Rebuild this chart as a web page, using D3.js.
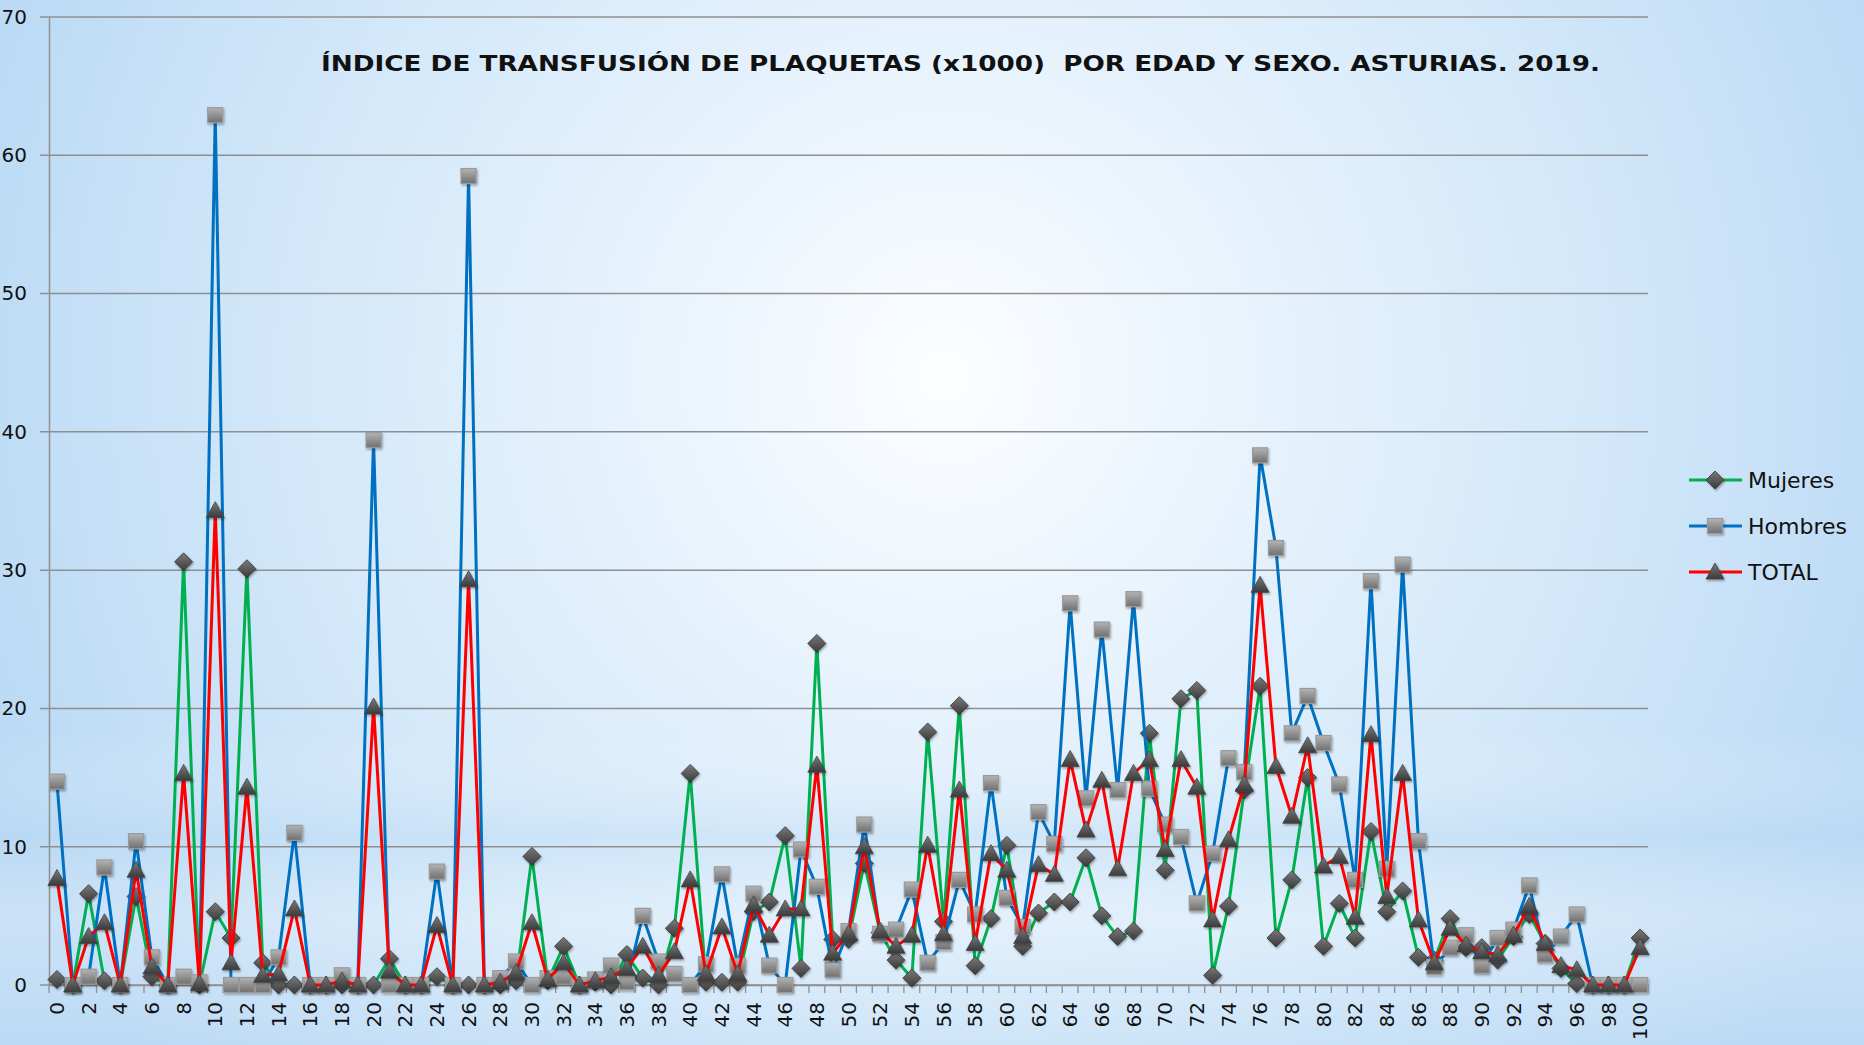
<!DOCTYPE html>
<html><head><meta charset="utf-8">
<script src="https://cdn.jsdelivr.net/npm/d3@7"></script>
<style>html,body{margin:0;padding:0;overflow:hidden;background:#d6eafa}</style>
</head><body>
<script>
const ages = d3.range(0, 101);
const mujeres = [0.4,0,6.6,0.3,0,6.4,0.6,0,30.6,0,5.3,3.4,30.1,1.6,0,0,0,0,0,0,
0,1.9,0,0,0.6,0,0,0,0,0.3,9.3,0.3,2.8,0,0.2,0,2.2,0.5,0,4.1,
15.3,0.2,0.2,0.2,5.3,6.0,10.8,1.2,24.7,3.3,3.3,8.8,3.8,1.8,0.5,18.3,4.6,20.2,1.4,4.8,
10.1,2.8,5.2,6.0,6.0,9.2,5.0,3.5,3.9,18.2,8.3,20.7,21.3,0.7,5.7,14.1,21.6,3.4,7.6,15.0,
2.8,5.9,3.4,11.1,5.3,6.8,2.0,1.8,4.8,2.7,2.7,1.8,3.5,5.1,3.0,1.2,0.1,0,0,0,3.4];
const hombres = [14.7,0,0.6,8.5,0,10.4,2.0,0,0.6,0.2,62.9,0,0,0,2.0,11.0,0,0,0.7,0,
39.4,0,0,0,8.2,0,58.5,0,0.5,1.7,0,0.5,0.6,0,0.4,1.4,0.2,5.0,1.7,0.8,
0,1.5,8.0,1.4,6.6,1.4,0,9.8,7.1,1.1,3.9,11.6,3.7,4.0,6.9,1.6,3.1,7.6,5.1,14.6,
6.3,4.2,12.5,10.2,27.6,13.5,25.7,14.1,27.9,14.2,11.6,10.7,5.9,9.5,16.4,15.4,38.3,31.6,18.2,20.9,
17.5,14.5,7.6,29.2,8.4,30.4,10.4,1.3,2.7,3.6,1.4,3.4,4.0,7.2,2.2,3.5,5.1,0,0,0,0];
const total = [7.7,0,3.5,4.5,0,8.3,1.3,0,15.3,0.1,34.3,1.6,14.3,0.7,0.8,5.5,0,0,0.3,0,
20.1,1.0,0,0,4.3,0,29.3,0,0.2,0.9,4.5,0.4,1.6,0,0.3,0.6,1.2,2.8,0.7,2.4,
7.6,0.8,4.2,0.8,5.8,3.6,5.5,5.5,15.9,2.3,3.7,10.0,3.9,2.8,3.6,10.1,3.7,14.1,3.0,9.5,
8.3,3.5,8.7,8.0,16.3,11.2,14.8,8.4,15.3,16.3,9.8,16.3,14.3,4.7,10.5,14.5,28.9,15.8,12.2,17.3,
8.6,9.3,4.9,18.1,6.4,15.3,4.7,1.6,4.1,2.9,2.4,2.2,3.6,5.7,3.0,1.4,1.1,0,0,0,2.7];
const yTicks = [0,10,20,30,40,50,60,70];
const xTickLabels = ages.filter(a => a % 2 === 0);
const seriesNames = ["Mujeres","Hombres","TOTAL"];
const seriesColors = ["#00b050","#0070c0","#ff0000"];
const seriesMarkers = ["diamond","square","triangle"];
const titleText = "ÍNDICE DE TRANSFUSIÓN DE PLAQUETAS (x1000)  POR EDAD Y SEXO. ASTURIAS. 2019.";

const W = 1864, H = 1045;
const svg = d3.select("body").append("svg").attr("width", W).attr("height", H)
  .style("font-family", "'DejaVu Sans', Verdana, sans-serif");
const defs = svg.append("defs");

const bg = defs.append("radialGradient").attr("id","bg").attr("gradientUnits","userSpaceOnUse")
  .attr("cx",945).attr("cy",375).attr("r",1050);
[[0,"#fdfeff"],[0.12,"#f4f9fe"],[0.35,"#e4f1fc"],[0.65,"#d1e7f9"],[1,"#b8d8f4"]]
  .forEach(([o,c]) => bg.append("stop").attr("offset",o).attr("stop-color",c));
svg.append("rect").attr("width",W).attr("height",H).attr("fill","url(#bg)");
const band = defs.append("linearGradient").attr("id","band").attr("x1",0).attr("x2",0).attr("y1",0).attr("y2",1);
[[0,"#ffffff",0],[0.7,"#ffffff",0],[0.8,"#b8d8f3",0.35],[0.88,"#ffffff",0.25],[1,"#c4def6",0.3]]
  .forEach(([o,c,a]) => band.append("stop").attr("offset",o).attr("stop-color",c).attr("stop-opacity",a));
svg.append("rect").attr("width",W).attr("height",H).attr("fill","url(#band)");

const gDark = defs.append("linearGradient").attr("id","gDark").attr("x1",0).attr("x2",0).attr("y1",0).attr("y2",1);
gDark.append("stop").attr("offset",0).attr("stop-color","#7a7a7a");
gDark.append("stop").attr("offset",1).attr("stop-color","#3a3a3a");
const gSq = defs.append("linearGradient").attr("id","gSq").attr("x1",0).attr("x2",0).attr("y1",0).attr("y2",1);
gSq.append("stop").attr("offset",0).attr("stop-color","#b4b4b4");
gSq.append("stop").attr("offset",1).attr("stop-color","#6f6f6f");
const sh = defs.append("filter").attr("id","sh").attr("x","-50%").attr("y","-50%").attr("width","200%").attr("height","200%");
sh.append("feDropShadow").attr("dx",1).attr("dy",1.5).attr("stdDeviation",1.2).attr("flood-color","#000").attr("flood-opacity",0.35);

const pLeft = 49, pRight = 1648, pTop = 17, pBottom = 985;
const x = d3.scaleBand().domain(ages).range([pLeft, pRight]).padding(0);
const cx = a => x(a) + x.bandwidth() / 2;
const y = d3.scaleLinear().domain([0, 70]).range([pBottom, pTop]);

svg.append("g").selectAll("line").data(yTicks).join("line")
  .attr("x1", pLeft - 9).attr("x2", pRight).attr("y1", d => y(d)).attr("y2", d => y(d))
  .attr("stroke", "#8f8f8f").attr("stroke-width", 1.5);

const yAxis = svg.append("g").attr("transform", `translate(${pLeft},0)`)
  .call(d3.axisLeft(y).tickValues(yTicks).tickSize(0).tickPadding(22));
yAxis.select(".domain").attr("stroke", "#8f8f8f").attr("stroke-width", 1.5);
yAxis.selectAll("text").attr("font-size", 20).attr("fill", "#111").attr("font-family","'DejaVu Sans', Verdana, sans-serif");

const xAxis = svg.append("g").attr("transform", `translate(0,${pBottom})`)
  .call(d3.axisBottom(x).tickValues(xTickLabels).tickSize(0));
xAxis.select(".domain").attr("stroke", "#8f8f8f").attr("stroke-width", 1.5);
xAxis.selectAll("text").attr("transform", "rotate(-90)").attr("text-anchor", "end")
  .attr("x", -17).attr("y", 0).attr("dy", "0.36em")
  .attr("font-size", 20).attr("fill", "#111").attr("font-family","'DejaVu Sans', Verdana, sans-serif");
svg.append("g").selectAll("line").data(ages.concat([101])).join("line")
  .attr("x1", d => d === 101 ? pRight : x(d)).attr("x2", d => d === 101 ? pRight : x(d))
  .attr("y1", pBottom).attr("y2", pBottom + 8).attr("stroke", "#8f8f8f").attr("stroke-width", 1.3);

function drawMarker(g, type, px, py) {
  if (type === "diamond") {
    g.append("path").attr("d", `M${px},${py-9}L${px+9},${py}L${px},${py+9}L${px-9},${py}Z`)
      .attr("fill", "url(#gDark)").attr("stroke", "#333").attr("stroke-width", 0.8).attr("filter","url(#sh)");
  } else if (type === "square") {
    g.append("rect").attr("x", px - 7.5).attr("y", py - 7.5).attr("width", 15).attr("height", 15)
      .attr("fill", "url(#gSq)").attr("stroke", "#9a9a9a").attr("stroke-width", 1.2).attr("filter","url(#sh)");
  } else {
    g.append("path").attr("d", `M${px},${py-9}L${px+9},${py+7}L${px-9},${py+7}Z`)
      .attr("fill", "url(#gDark)").attr("stroke", "#444").attr("stroke-width", 0.8).attr("filter","url(#sh)");
  }
}

const data = [mujeres, hombres, total];
const line = d3.line().x((d, i) => cx(ages[i])).y(d => y(d));
data.forEach((vals, s) => {
  const g = svg.append("g");
  g.append("path").datum(vals).attr("d", line).attr("fill", "none")
    .attr("stroke", seriesColors[s]).attr("stroke-width", 3).attr("stroke-linejoin", "round");
  vals.forEach((v, i) => drawMarker(g, seriesMarkers[s], cx(ages[i]), y(v)));
});

svg.append("text").attr("x", 321).attr("y", 71).attr("font-size", 22).attr("font-weight", "bold")
  .attr("fill", "#111").attr("textLength", 1279).attr("lengthAdjust", "spacingAndGlyphs")
  .style("white-space","pre").text(titleText);

const leg = svg.append("g");
seriesNames.forEach((n, i) => {
  const ly = 480 + i * 46;
  leg.append("line").attr("x1", 1689).attr("x2", 1742).attr("y1", ly).attr("y2", ly)
    .attr("stroke", seriesColors[i]).attr("stroke-width", 3);
  drawMarker(leg, seriesMarkers[i], 1715, ly);
  leg.append("text").attr("x", 1748).attr("y", ly).attr("dy", "0.36em")
    .attr("font-size", 22).attr("fill", "#111").text(n);
});
</script>
</body></html>
